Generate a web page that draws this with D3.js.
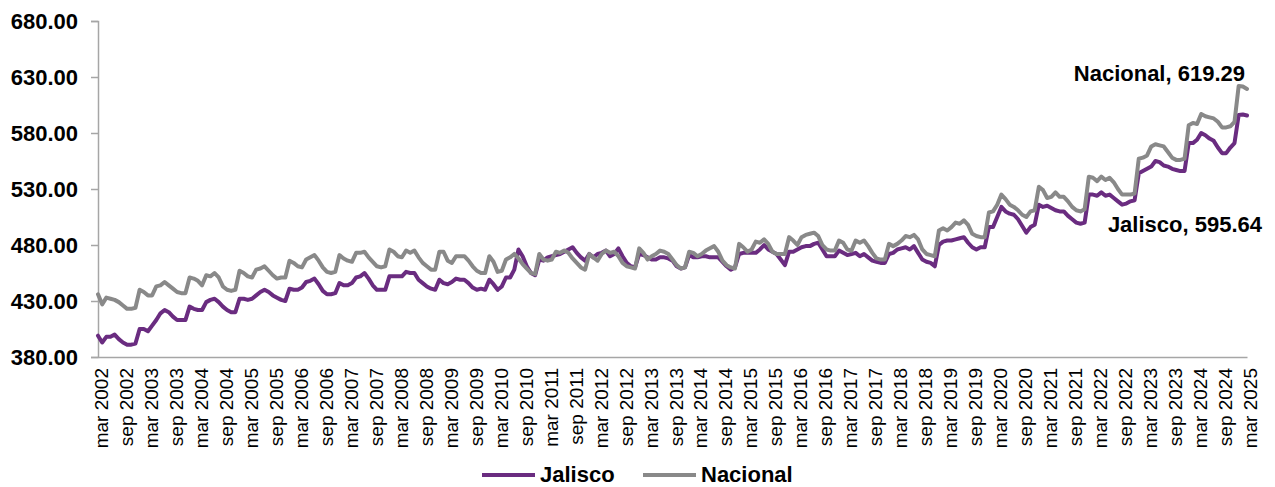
<!DOCTYPE html>
<html>
<head>
<meta charset="utf-8">
<script src="https://cdn.jsdelivr.net/npm/d3@7"></script>
<style>
  body { margin: 0; background: #fff; }
  text { font-family: "Liberation Sans", Arial, sans-serif; }
</style>
</head>
<body>
<div id="chart"></div>
<script>
// monthly series, mar 2002 .. mar 2025
var startMonth = new Date(2002, 2, 1),
    endMonth = new Date(2025, 2, 1);

var jalisco = [
  399, 393, 398, 398, 400, 396, 393, 391, 391, 392,
  405, 405, 403, 408, 413, 419, 422, 420, 416, 413, 413, 413,
  425, 423, 422, 422, 429, 431, 432, 429, 425, 422, 420, 420,
  432, 432, 431, 432, 435, 438, 440, 438, 435, 433, 431, 430,
  441, 440, 440, 442, 447, 448, 450, 445, 439, 436, 436, 437,
  446, 444, 444, 446, 451, 452, 455, 450, 444, 440, 440, 440,
  452, 452, 452, 452, 456, 455, 455, 449, 446, 443, 441, 440,
  449, 446, 445, 447, 450, 449, 449, 446, 442, 440, 441, 440,
  449, 445, 440, 443, 451, 451, 458, 476, 470, 461, 455, 453,
  467, 466, 469, 470, 471, 472, 474, 476, 478, 473, 469, 466,
  472, 469, 472, 473, 475, 470, 472, 477, 470, 464, 461, 460,
  472, 471, 469, 467, 467, 469, 469, 468, 466, 461, 459, 460,
  471, 469, 469, 470, 470, 469, 469, 469, 465, 461, 458, 460,
  472, 473, 473, 473, 473, 476, 480, 476, 474, 472, 467, 462,
  474, 474, 476, 478, 479, 479, 481, 482, 476, 470, 470, 470,
  475, 473, 471, 472, 473, 470, 472, 469, 466, 465, 464, 464,
  472, 473, 476, 477, 478, 476, 479, 473, 467, 465, 464, 461,
  480, 483, 484, 484, 485, 486, 487, 482, 478, 476, 478, 478,
  496, 496, 505, 514, 510, 508, 507, 503, 497, 491, 496, 498,
  516, 514, 515, 513, 511, 510, 510, 506, 503, 500, 499, 500,
  525, 525, 524, 527, 524, 525, 522, 519, 516, 517, 519, 520,
  544, 546, 548, 550, 555, 554, 551, 550, 548, 547, 546, 546,
  571, 571, 574, 580, 578, 575, 573, 567, 562, 562, 567, 571,
  596, 596.5, 595.64
];

var nacional = [
  436, 427, 433, 432, 431, 429, 426, 423, 423, 424,
  440, 438, 435, 435, 443, 444, 447, 444, 441, 438, 437, 437,
  451, 450, 448, 444, 453, 452, 455, 451, 443, 440, 439, 440,
  457, 455, 452, 451, 458, 459, 461, 457, 453, 450, 451, 451,
  466, 464, 461, 460, 467, 469, 471, 466, 460, 456, 455, 456,
  471, 468, 466, 465, 473, 473, 474, 469, 465, 461, 460, 461,
  476, 474, 470, 469, 475, 473, 475, 469, 464, 461, 458, 458,
  474, 474, 466, 464, 470, 470, 470, 466, 461, 457, 455, 455,
  470, 465, 456, 457, 467, 469, 472, 468, 463, 459, 455, 454,
  472, 467, 466, 467, 474, 473, 475, 473, 468, 464, 460, 458,
  472, 469, 466, 472, 475, 473, 474, 470, 464, 461, 460, 459,
  477, 473, 467, 470, 472, 475, 474, 472, 467, 462, 459, 460,
  474, 473, 470, 472, 475, 477, 479, 474, 466, 462, 460, 459,
  481, 478, 474, 476, 483, 482, 485, 481, 474, 472, 472, 472,
  487, 484, 480, 487, 489, 490, 491, 488, 480, 476, 475, 475,
  484, 482, 476, 475, 484, 482, 484, 479, 473, 468, 467, 467,
  481, 479, 481, 484, 488, 487, 489, 485, 476, 472, 471, 470,
  493, 495, 493, 496, 500, 499, 502, 498, 490, 488, 487, 487,
  509, 510, 516, 525, 521, 516, 514, 511, 507, 505, 510, 511,
  532, 529, 522, 523, 527, 523, 523, 519, 514, 511, 510, 512,
  541, 540, 537, 541, 538, 540, 536, 530, 525, 525, 525, 526,
  557, 558, 560, 568, 570, 569, 568, 563, 558, 556, 556, 557,
  587, 589, 588, 597, 595, 594, 593, 590, 585, 585, 586, 590,
  622, 621.5, 619.29
];

var yTicks = [380, 430, 480, 530, 580, 630, 680];
var monthNames = ["ene", "feb", "mar", "abr", "may", "jun", "jul", "ago", "sep", "oct", "nov", "dic"];

var months = d3.timeMonth.range(startMonth, d3.timeMonth.offset(endMonth, 1));
var labelOf = function(d) { return monthNames[d.getMonth()] + " " + d.getFullYear(); };

var series = [
  {name: "Jalisco", values: jalisco, color: "#6a2c80"},
  {name: "Nacional", values: nacional, color: "#898989"}
];

var width = 1275, height = 487;
var margin = {top: 21, right: 28, bottom: 130, left: 98};

var svg = d3.select("#chart")
  .append("svg")
    .attr("width", width)
    .attr("height", height);

var x = d3.scalePoint()
  .domain(d3.range(months.length))
  .range([margin.left, width - margin.right]);

var y = d3.scaleLinear()
  .domain([380, 680])
  .range([height - margin.bottom, margin.top]);

// Y axis
var yAxis = svg.append("g")
  .attr("transform", "translate(" + margin.left + ",0)")
  .call(d3.axisLeft(y).tickValues(yTicks).tickFormat(d3.format(".2f")).tickSizeOuter(0).tickSize(7).tickPadding(13));
yAxis.select(".domain").attr("stroke", "#a6a6a6").attr("stroke-width", 1.5);
yAxis.selectAll(".tick line").attr("stroke", "#a6a6a6").attr("stroke-width", 1.5);
yAxis.selectAll("text")
  .style("font-family", "'Liberation Sans', Arial, sans-serif")
  .style("font-size", "22px")
  .style("font-weight", "bold")
  .attr("fill", "#000");

// X axis
var xTickIdx = d3.range(0, months.length, 6);
var xAxis = svg.append("g")
  .attr("transform", "translate(0," + y(380) + ")")
  .call(d3.axisBottom(x).tickValues(xTickIdx).tickFormat(function(i) { return labelOf(months[i]); }).tickSize(0).tickSizeOuter(0));
xAxis.select(".domain").attr("stroke", "#a6a6a6").attr("stroke-width", 1.5);
xAxis.selectAll("text")
  .style("font-family", "'Liberation Sans', Arial, sans-serif")
  .style("font-size", "19px")
  .attr("fill", "#000")
  .attr("text-anchor", "end")
  .attr("transform", "rotate(-90)")
  .attr("x", -11)
  .attr("y", 0)
  .attr("dy", "0.5em");

// Lines
var line = d3.line()
  .x(function(d, i) { return x(i); })
  .y(function(d) { return y(d); });

svg.selectAll(".series")
  .data(series)
  .enter()
  .append("path")
    .attr("class", "series")
    .attr("d", function(d) { return line(d.values); })
    .attr("fill", "none")
    .attr("stroke", function(d) { return d.color; })
    .attr("stroke-width", 4)
    .attr("stroke-linejoin", "round")
    .attr("stroke-linecap", "round");

// end labels
var last = months.length - 1;
svg.append("text")
  .attr("x", x(last) - 2)
  .attr("y", y(nacional[last]) - 8)
  .attr("text-anchor", "end")
  .style("font-size", "22px")
  .style("font-weight", "bold")
  .text("Nacional, " + d3.format(".2f")(nacional[last]));
svg.append("text")
  .attr("x", x(last) + 15)
  .attr("y", y(jalisco[last]) + 117)
  .attr("text-anchor", "end")
  .style("font-size", "22px")
  .style("font-weight", "bold")
  .text("Jalisco, " + d3.format(".2f")(jalisco[last]));

// Legend
var legend = svg.append("g")
  .attr("transform", "translate(482,475)");
var item = legend.selectAll("g")
  .data(series)
  .enter()
  .append("g")
    .attr("transform", function(d, i) { return "translate(" + (i * 161) + ",0)"; });
item.append("line")
  .attr("x1", 0).attr("x2", 53)
  .attr("stroke", function(d) { return d.color; })
  .attr("stroke-width", 4);
item.append("text")
  .attr("x", 58)
  .attr("y", 7)
  .style("font-size", "22px")
  .style("font-weight", "bold")
  .text(function(d) { return d.name; });
</script>
</body>
</html>
